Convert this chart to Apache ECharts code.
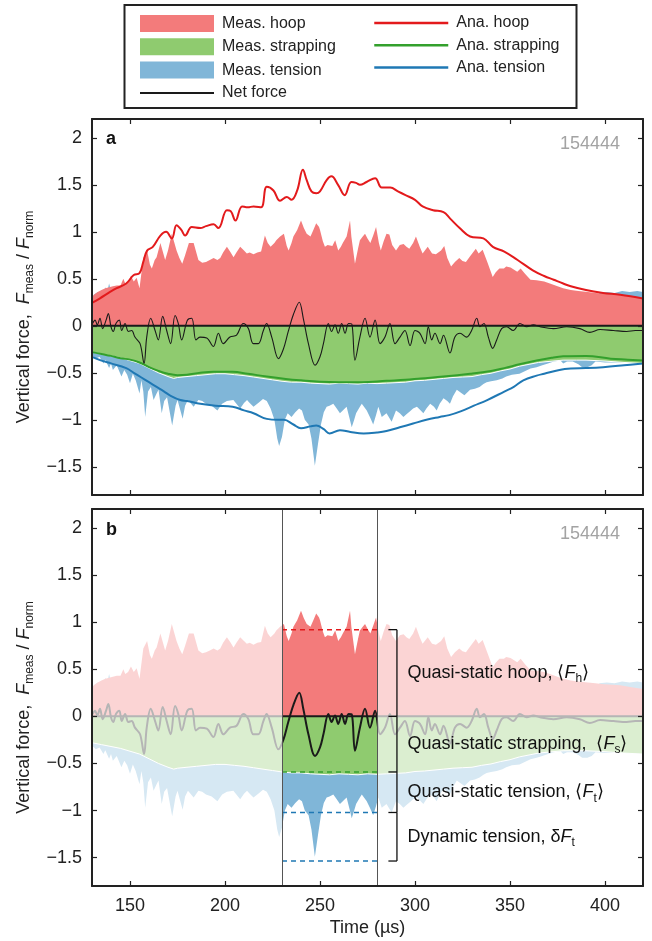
<!DOCTYPE html>
<html>
<head>
<meta charset="utf-8">
<script src="https://cdn.jsdelivr.net/npm/echarts@6/dist/echarts.min.js"></script>
<style>
  html, body { margin: 0; padding: 0; background: #fff; }
  #chart { width: 652px; height: 941px; }
</style>
</head>
<body>
<div id="chart"></div>
<script>
// axis limits: time in µs, force normalised
const tMin = 130, tMax = 420;
const fMin = -1.8, fMax = 2.2;
const timeTicks = [150, 200, 250, 300, 350, 400];
const forceTicks = [-1.5, -1, -0.5, 0, 0.5, 1, 1.5, 2];

// measured hoop force (top of red area)
const measHoop = [[130,0.30],[131,0.33],[133,0.36],[135,0.38],[137,0.40],[139,0.41],[141,0.42],[143,0.43],[145,0.43],[146.5,0.50],[147.5,0.45],[149,0.47],[150.5,0.53],[152,0.47],[153.5,0.51],[155,0.40],[156,0.38],[157,0.72],[159,0.80],[160.5,0.65],[161.5,0.61],[163,0.70],[164,0.73],[166,0.88],[168.5,0.70],[170,0.80],[172,0.98],[174.5,0.80],[176,0.72],[177.5,0.66],[179,0.75],[181,0.88],[183.5,0.88],[186,0.70],[188,0.67],[190,0.68],[192,0.70],[194,0.72],[196,0.70],[197.5,0.72],[199,0.78],[201,0.84],[203,0.78],[204.5,0.73],[206,0.78],[208,0.84],[210,0.80],[211.5,0.77],[213,0.78],[215,0.76],[217,0.78],[219,0.79],[221,0.96],[222.5,0.88],[224,0.84],[226,0.88],[227,0.91],[229,0.95],[231,0.98],[232.5,0.85],[233.5,0.80],[235,0.88],[236,0.95],[238,1.02],[240,1.12],[241.5,1.04],[243,0.98],[245,0.95],[246.5,1.02],[248,1.09],[249.5,1.05],[250,1.02],[251.5,0.90],[252.6,0.84],[254,0.86],[255,0.88],[256.5,0.85],[258,0.91],[259.6,0.80],[261,0.84],[262,0.88],[264,0.95],[265.8,1.12],[266.5,0.95],[268.4,0.66],[270,0.82],[271,0.91],[272.5,0.95],[273.7,0.98],[275,0.93],[276.5,0.88],[278,0.96],[279.5,1.05],[281,0.88],[282,0.80],[283.5,0.90],[285,0.98],[286.5,0.97],[288,0.86],[290,0.80],[292,0.86],[294,0.87],[295.5,0.84],[297,0.82],[299,0.88],[300.5,0.95],[302.5,0.84],[304,0.77],[306.7,0.84],[309,0.77],[311,0.76],[313.7,0.80],[315.4,0.85],[317,0.72],[319,0.63],[321,0.68],[323.3,0.72],[325,0.69],[326.8,0.68],[329,0.74],[332,0.82],[333.5,0.77],[335.6,0.81],[338.2,0.67],[340.9,0.52],[342.5,0.57],[344.4,0.61],[346.8,0.61],[348,0.63],[350.3,0.62],[353.8,0.575],[355.6,0.61],[358,0.55],[360.8,0.49],[364,0.485],[368,0.47],[371,0.45],[375,0.42],[378,0.40],[382,0.38],[386,0.37],[391,0.36],[395,0.35],[399.4,0.34],[404,0.335],[408,0.33],[414,0.31],[420,0.29]];

// measured strapping force (bottom of green area)
const measStrap = [[130,-0.28],[135,-0.30],[140,-0.32],[145,-0.34],[150,-0.37],[155,-0.40],[160,-0.45],[165,-0.50],[170,-0.54],[173,-0.56],[175,-0.55],[180,-0.54],[185,-0.53],[190,-0.52],[195,-0.51],[200,-0.51],[205,-0.52],[210,-0.53],[215,-0.545],[220,-0.56],[225,-0.575],[230,-0.59],[235,-0.60],[240,-0.60],[245,-0.61],[250,-0.615],[255,-0.62],[260,-0.61],[265,-0.615],[270,-0.62],[275,-0.61],[280,-0.615],[285,-0.61],[290,-0.605],[295,-0.60],[300,-0.585],[305,-0.58],[310,-0.57],[315,-0.56],[320,-0.55],[325,-0.545],[330,-0.54],[335,-0.52],[340,-0.505],[345,-0.48],[350,-0.46],[355,-0.43],[360,-0.41],[365,-0.39],[370,-0.38],[378,-0.365],[385,-0.365],[390,-0.365],[400,-0.375],[410,-0.39],[420,-0.40]];

// measured tension force (bottom of blue area)
const measTension = [[130,-0.31],[132,-0.35],[134,-0.33],[136,-0.40],[137,-0.36],[139,-0.45],[140,-0.40],[141,-0.47],[143,-0.42],[145.5,-0.54],[147,-0.47],[148.5,-0.52],[150,-0.61],[151.5,-0.51],[153,-0.58],[155,-0.72],[156,-0.58],[157,-0.70],[158,-0.97],[159.5,-0.70],[161,-0.65],[162.4,-0.79],[164,-0.72],[165,-0.68],[166.7,-0.93],[168,-0.80],[169.5,-0.76],[172.2,-1.06],[174,-0.85],[175,-0.79],[177.7,-0.99],[179,-0.85],[180.5,-0.79],[183.5,-0.86],[186,-0.79],[188,-0.80],[190,-0.83],[193,-0.85],[196,-0.90],[198.5,-0.83],[201,-0.80],[204.4,-0.79],[206,-0.83],[208,-0.88],[210,-0.82],[211.6,-0.79],[213,-0.82],[215,-0.86],[217.5,-0.82],[220,-0.78],[222,-0.80],[224,-0.88],[226,-1.0],[227.5,-1.2],[228.5,-1.28],[230,-1.18],[231.5,-1.0],[233,-0.93],[235,-0.97],[237,-0.92],[239,-0.88],[240.5,-0.90],[242,-1.0],[244,-1.05],[245.5,-1.2],[247.3,-1.49],[249,-1.25],[250.5,-1.05],[252,-0.92],[253.5,-0.86],[255,-0.85],[257,-0.83],[258.8,-0.88],[260.5,-0.93],[262,-0.90],[264,-0.86],[265.5,-0.98],[266.7,-1.08],[268,-1.0],[269,-0.93],[271,-0.86],[272,-0.83],[274.6,-0.90],[276.5,-0.98],[278,-1.05],[279.5,-0.95],[280.7,-0.86],[282.5,-0.97],[285,-0.93],[287.7,-1.02],[290,-0.90],[292,-0.93],[293.9,-0.97],[295.5,-0.94],[297.4,-0.91],[299,-0.88],[301,-0.86],[302.5,-0.89],[304.4,-0.93],[306,-0.88],[308,-0.83],[310,-0.86],[311.4,-0.90],[313,-0.83],[315,-0.77],[317,-0.80],[318.4,-0.83],[320,-0.75],[322,-0.68],[324,-0.71],[326,-0.74],[329,-0.68],[331.5,-0.67],[334,-0.65],[336,-0.62],[337.7,-0.60],[340,-0.59],[343,-0.58],[346,-0.56],[348,-0.54],[351,-0.52],[355,-0.51],[360.8,-0.455],[364,-0.44],[367,-0.42],[370,-0.40],[373,-0.38],[376.6,-0.37],[378,-0.40],[380,-0.38],[383,-0.38],[386,-0.41],[388,-0.44],[390.7,-0.44],[393,-0.42],[395,-0.38],[400,-0.39],[410,-0.39],[420,-0.40]];

// small positive tension peeking above the hoop area at both ends
const tensionPosLeft = [[130,0.30],[131,0.33],[132,0.31],[133,0.36],[134,0.32],[135,0.38],[136,0.33],[137,0.41],[138,0.36],[139,0.45],[140,0.37],[141,0.40],[142,0.36],[143,0.38],[144,0.0]];
const tensionPosRight = [[396,0.0],[397,0.35],[401,0.36],[405,0.35],[409,0.37],[413,0.36],[417,0.37],[420,0.36]];

// analytical curves
const anaHoop = [[130,0.245],[134,0.29],[139.5,0.36],[143,0.40],[148,0.45],[152,0.54],[155,0.56],[157,0.68],[159,0.80],[162,0.84],[166,0.96],[169,1.0],[172,0.93],[174.5,1.07],[177,1.02],[179,0.96],[182.5,1.05],[187,1.04],[190,1.06],[194,1.08],[196.5,1.04],[201,1.23],[203,1.22],[205.5,1.12],[209,1.27],[212,1.26],[215,1.27],[219,1.26],[222,1.48],[225.5,1.44],[229,1.33],[232.5,1.37],[235,1.34],[238,1.44],[241,1.66],[243,1.55],[245.5,1.43],[248,1.41],[250,1.43],[253.5,1.55],[256,1.59],[259.5,1.50],[263,1.39],[266.5,1.53],[269,1.52],[271,1.50],[274.5,1.53],[279,1.57],[282.5,1.47],[287,1.47],[291,1.43],[295,1.39],[300,1.34],[304,1.27],[309.5,1.23],[315,1.21],[318.5,1.14],[323.5,1.04],[329,0.95],[336,0.93],[341,0.84],[347,0.79],[354,0.70],[362,0.59],[368,0.53],[373,0.49],[378,0.45],[382,0.42],[390,0.38],[399,0.35],[408,0.33],[420,0.29]];
const anaStrap = [[130,-0.28],[135,-0.30],[140,-0.32],[145,-0.345],[150,-0.36],[155,-0.39],[160,-0.44],[165,-0.48],[170,-0.51],[175,-0.525],[180,-0.52],[187,-0.50],[194,-0.49],[204,-0.49],[212,-0.51],[222,-0.54],[232,-0.565],[240,-0.58],[250,-0.595],[260,-0.60],[272,-0.60],[285,-0.585],[295,-0.575],[303,-0.56],[315,-0.54],[329,-0.51],[340,-0.48],[347,-0.45],[355,-0.41],[364,-0.37],[372,-0.34],[378,-0.325],[390,-0.32],[403,-0.35],[412,-0.36],[420,-0.37]];
const anaTension = [[130,-0.33],[135,-0.37],[140,-0.40],[148,-0.45],[152,-0.50],[156,-0.55],[160,-0.60],[164,-0.65],[168,-0.70],[171,-0.74],[176.5,-0.79],[180,-0.80],[187,-0.83],[195,-0.85],[204,-0.86],[210,-0.90],[215,-0.93],[222,-0.99],[228,-1.0],[231,-1.0],[236,-1.05],[240,-1.09],[245,-1.07],[248,-1.06],[252,-1.10],[255,-1.145],[260.5,-1.11],[266,-1.13],[273,-1.145],[280,-1.135],[285,-1.12],[292,-1.08],[299,-1.04],[306,-1.0],[313,-0.97],[318,-0.95],[324,-0.91],[331,-0.85],[338,-0.79],[347,-0.70],[352,-0.65],[357,-0.58],[364,-0.53],[368,-0.51],[376,-0.47],[382,-0.455],[390,-0.45],[399,-0.44],[410,-0.42],[420,-0.40]];

// net force
const netForce = [[130.3,0.025],[131.6,0.06],[132.8,0.01],[134.2,0.08],[135.6,-0.03],[137.4,0.06],[138.6,0.13],[140,-0.01],[141.2,-0.06],[142.6,0.025],[144.4,0.06],[145.6,-0.05],[147.4,0.025],[149.1,-0.06],[150.9,-0.05],[152.6,-0.12],[155.3,-0.19],[157.4,-0.40],[158.8,-0.12],[160.9,0.08],[163.2,-0.05],[164.9,-0.15],[167.2,0.10],[169.3,-0.05],[171.4,-0.19],[173.7,0.11],[175.4,0.025],[177.2,-0.15],[180.2,0.06],[182.5,0.08],[184.7,-0.15],[186.8,-0.12],[190.4,-0.13],[193.9,-0.22],[196.5,-0.08],[199.1,-0.19],[202.6,-0.12],[206.1,-0.10],[209.6,0.025],[212.3,-0.03],[214.9,-0.19],[217.5,-0.19],[220.2,-0.05],[221.9,0.025],[224.6,-0.12],[228.1,-0.35],[230.7,-0.25],[233.3,-0.06],[236,0.12],[239.1,0.25],[241.2,0.08],[243.9,-0.19],[247.4,-0.42],[250,-0.33],[251.8,-0.19],[254.4,0.025],[256.1,-0.06],[257.9,0.01],[259.6,-0.08],[261.4,0.025],[263.2,-0.08],[265,0.025],[266.7,0.02],[268.4,-0.365],[271,-0.12],[273.7,0.08],[276.3,-0.12],[279,0.06],[281.6,-0.19],[284.2,-0.12],[286.8,0.025],[289.5,-0.19],[292.1,-0.12],[294.7,-0.05],[297.4,-0.21],[300,-0.05],[302.6,-0.08],[305.3,-0.19],[307,-0.01],[308.8,-0.15],[310.5,-0.08],[313.2,-0.19],[315,-0.10],[318.4,-0.29],[321,-0.12],[323.7,-0.08],[327.2,-0.12],[329.8,-0.05],[332.5,0.08],[334.2,-0.01],[336.3,0.025],[338.6,-0.12],[340.9,-0.24],[343,-0.15],[345.6,-0.03],[348.2,-0.01],[351.7,-0.05],[355.2,0.025],[358.8,-0.01],[362.3,0.01],[365.8,-0.01],[372.8,-0.03],[379.8,-0.01],[386.8,-0.03],[392,-0.07],[397.4,-0.04],[404.4,-0.05],[411.4,-0.06],[416,-0.05],[420,-0.05]];

// panel b: averaging window, faded spans, mean levels and bracket
const windowT = [230, 280];
const fadeSpans = [[130, 230], [280, 420]];
const levelValues = [0.92, -0.59, -1.02, -1.535];
const levelColors = ['#e31a1c', '#33a02c', '#1f78b4', '#1f78b4'];
const bracketLevels = [0.92, 0, -0.59, -1.02, -1.535];
const bracketLabels = [
  '{n|Quasi-static hoop, \u27e8}{i|F}{s|h}{n|\u27e9}',
  '{n|Quasi-static strapping,  \u27e8}{i|F}{s|s}{n|\u27e9}',
  '{n|Quasi-static tension, \u27e8}{i|F}{s|t}{n|\u27e9}',
  '{n|Dynamic tension, \u03b4}{i|F}{s|t}'
];
const bracketX = 290.5, bracketTickX = 286, labelX = 296;

const FONT = '"Liberation Sans", Arial, Helvetica, sans-serif';
const INK = '#222';
const C = {
  hoopFill: '#f37b7b', strapFill: '#8fcb6f', tensFill: '#80b6d8',
  hoop: '#e31a1c', strap: '#33a02c', tens: '#1f78b4', net: '#1a1a1a'
};

const fmt = v => (v < 0 ? '\u2212' + Math.abs(v) : String(v));
const labelRich = {
  n: { fontSize: 18, fontFamily: FONT },
  i: { fontSize: 18, fontFamily: FONT, fontStyle: 'italic' },
  s: { fontSize: 12, fontFamily: FONT, padding: [12, 0, 0, 0] }
};

function axes(gi, withLabels) {
  const tick = { show: true, inside: true, length: 5, lineStyle: { color: INK, width: 1.2 } };
  const line = { show: true, onZero: false, lineStyle: { color: INK, width: 2 } };
  const xs = ['bottom', 'top'].map((pos, k) => ({
    type: 'value', gridIndex: gi, position: pos, min: tMin, max: tMax, z: 10,
    axisLine: line, axisTick: Object.assign({ customValues: timeTicks }, tick),
    axisLabel: { show: withLabels && k === 0, customValues: timeTicks, fontSize: 18, color: INK, margin: 11 },
    splitLine: { show: false },
    name: withLabels && k === 0 ? 'Time (\u00b5s)' : '',
    nameLocation: 'middle', nameGap: 33, nameTextStyle: { fontSize: 18, color: INK }
  }));
  const ys = ['left', 'right'].map((pos, k) => ({
    type: 'value', gridIndex: gi, position: pos, min: fMin, max: fMax, z: 10,
    axisLine: line, axisTick: Object.assign({ customValues: forceTicks }, tick),
    axisLabel: { show: k === 0, customValues: forceTicks, fontSize: 18, color: INK, margin: 10, formatter: fmt },
    splitLine: { show: false },
    name: k === 0 ? '{n|Vertical force,  }{i|F}{s|meas}{n| / }{i|F}{s|norm}' : '',
    nameLocation: 'middle', nameGap: 50, nameRotate: 90,
    nameTextStyle: { color: INK, fontSize: 18, rich: labelRich, padding: [0, 20, 0, 0] }
  }));
  return { xs, ys };
}

function area(name, data, color, gi) {
  return {
    type: 'line', name, data, xAxisIndex: 2 * gi, yAxisIndex: 2 * gi, z: 3,
    symbol: 'none', showSymbol: false, color, silent: true,
    lineStyle: { width: 0 }, areaStyle: { color, opacity: 1 }
  };
}
function curve(name, data, color, width, gi, extra) {
  return Object.assign({
    type: 'line', name, data, xAxisIndex: 2 * gi, yAxisIndex: 2 * gi, z: 3,
    symbol: 'none', showSymbol: false, color, silent: true,
    lineStyle: { color, width }
  }, extra || {});
}
// zero reference line across the whole time range
const zeroData = [[tMin, 0], [tMax, 0]];

function measuredSeries(gi, p) {
  return [
    area(p + 'tensPosL', tensionPosLeft, C.tensFill, gi),
    area(p + 'tensPosR', tensionPosRight, C.tensFill, gi),
    area(p + 'Meas. tension', measTension, C.tensFill, gi),
    area(p + 'Meas. hoop', measHoop, C.hoopFill, gi),
    area(p + 'Meas. strapping', measStrap, C.strapFill, gi),
    curve(p + 'strapEdge', measStrap, '#ffffff', 1, gi)
  ];
}

const a = axes(0, false), b = axes(1, true);

const series = [].concat(
  measuredSeries(0, ''),
  [
    curve('Ana. strapping', anaStrap, C.strap, 2, 0, { smooth: 0.4 }),
    curve('Ana. tension', anaTension, C.tens, 2, 0, { smooth: 0.4 }),
    curve('Ana. hoop', anaHoop, C.hoop, 2, 0, { smooth: 0.4 }),
    curve('zeroA', zeroData, C.net, 2, 0, { z: 3.5 }),
    curve('Net force', netForce, C.net, 1.1, 0, { smooth: 0.35, z: 3.6 })
  ],
  measuredSeries(1, 'b '),
  [
    curve('zeroB', zeroData, C.net, 2, 1, { z: 3.5 }),
    curve('b Net force', netForce, C.net, 2, 1, { smooth: 0.35, z: 3.6 }),
    {
      type: 'custom', name: 'fade', xAxisIndex: 2, yAxisIndex: 2, z: 4, silent: true,
      data: fadeSpans,
      encode: { x: [0, 1] },
      renderItem: (params, api) => {
        const p0 = api.coord([api.value(0), fMax]);
        const p1 = api.coord([api.value(1), fMin]);
        return {
          type: 'rect',
          shape: { x: p0[0], y: p0[1], width: p1[0] - p0[0], height: p1[1] - p0[1] },
          style: { fill: 'rgba(255,255,255,0.68)' }
        };
      }
    }
  ],
  levelValues.map((v, i) => curve('level' + i, windowT.map(t => [t, v]), levelColors[i], 1.5, 1, {
    z: 6,
    lineStyle: { color: levelColors[i], width: 1.5, type: [5, 4] },
    markLine: i === 0 ? {
      silent: true, z: 7, symbol: ['none', 'none'], label: { show: false },
      lineStyle: { color: '#555', width: 1, type: 'solid' },
      data: windowT.map(t => ({ xAxis: t }))
    } : undefined
  })),
  [{
    type: 'custom', name: 'bracket', xAxisIndex: 2, yAxisIndex: 2, z: 6, silent: true,
    data: bracketLabels.map((s, i) => [bracketLevels[i], bracketLevels[i + 1], i]),
    encode: { y: [0, 1] },
    renderItem: (params, api) => {
      const v0 = api.value(0), v1 = api.value(1), i = api.value(2);
      const top = api.coord([bracketX, v0]);
      const bot = api.coord([bracketX, v1]);
      const tx = api.coord([bracketTickX, v0])[0];
      const mid = api.coord([labelX, (v0 + v1) / 2]);
      const stroke = { stroke: '#111', lineWidth: 1.3 };
      const children = [
        { type: 'line', shape: { x1: top[0], y1: top[1], x2: bot[0], y2: bot[1] }, style: stroke },
        { type: 'line', shape: { x1: tx, y1: top[1], x2: top[0], y2: top[1] }, style: stroke }
      ];
      if (i === bracketLabels.length - 1) {
        children.push({ type: 'line', shape: { x1: tx, y1: bot[1], x2: bot[0], y2: bot[1] }, style: stroke });
      }
      children.push({
        type: 'text',
        style: {
          text: bracketLabels[i], x: mid[0], y: mid[1], fill: '#111',
          fontSize: 18, fontFamily: FONT, align: 'left', verticalAlign: 'middle', rich: labelRich
        }
      });
      return { type: 'group', children };
    }
  }]
);

// line legend items: hide the marker circle, keep only the stroke
const hiddenMarker = { color: 'rgba(0,0,0,0)', opacity: 0, borderWidth: 0 };
const legendCommon = {
  orient: 'vertical', top: 15, itemWidth: 74, itemHeight: 17, itemGap: 6.3,
  selectedMode: false, padding: 0,
  textStyle: { fontSize: 16, color: INK, fontFamily: FONT, padding: [0, 0, 0, 3] }
};

const chart = echarts.init(document.getElementById('chart'), null, { renderer: 'canvas' });
chart.setOption({
  animation: false,
  backgroundColor: '#fff',
  textStyle: { fontFamily: FONT },
  grid: [
    { left: 92, top: 119, width: 551, height: 376 },
    { left: 92, top: 509, width: 551, height: 377 }
  ],
  xAxis: a.xs.concat(b.xs),
  yAxis: a.ys.concat(b.ys),
  title: [
    { text: 'a', left: 106, top: 130, padding: 0, textStyle: { fontSize: 18, fontWeight: 'bold', color: '#111', fontFamily: FONT } },
    { text: 'b', left: 106, top: 521, padding: 0, textStyle: { fontSize: 18, fontWeight: 'bold', color: '#111', fontFamily: FONT } },
    { text: '154444', right: 32, top: 135, padding: 0, textStyle: { fontSize: 18, fontWeight: 'normal', color: '#a3a3a3', fontFamily: FONT } },
    { text: '154444', right: 32, top: 525, padding: 0, textStyle: { fontSize: 18, fontWeight: 'normal', color: '#a3a3a3', fontFamily: FONT } }
  ],
  legend: [
    Object.assign({}, legendCommon, {
      left: 139,
      data: [
        { name: 'Meas. hoop', icon: 'rect', itemStyle: { color: C.hoopFill, borderWidth: 0 } },
        { name: 'Meas. strapping', icon: 'rect', itemStyle: { color: C.strapFill, borderWidth: 0 } },
        { name: 'Meas. tension', icon: 'rect', itemStyle: { color: C.tensFill, borderWidth: 0 } },
        { name: 'Net force', itemStyle: hiddenMarker, lineStyle: { width: 2 } }
      ]
    }),
    Object.assign({}, legendCommon, {
      left: 373,
      data: [
        { name: 'Ana. hoop', itemStyle: hiddenMarker, lineStyle: { width: 2.5 } },
        { name: 'Ana. strapping', itemStyle: hiddenMarker, lineStyle: { width: 2.5 } },
        { name: 'Ana. tension', itemStyle: hiddenMarker, lineStyle: { width: 2.5 } }
      ]
    })
  ],
  graphic: [{
    type: 'rect', shape: { x: 124.5, y: 5, width: 452, height: 103 },
    style: { fill: 'none', stroke: INK, lineWidth: 2 }
  }],
  series
});
</script>
</body>
</html>
